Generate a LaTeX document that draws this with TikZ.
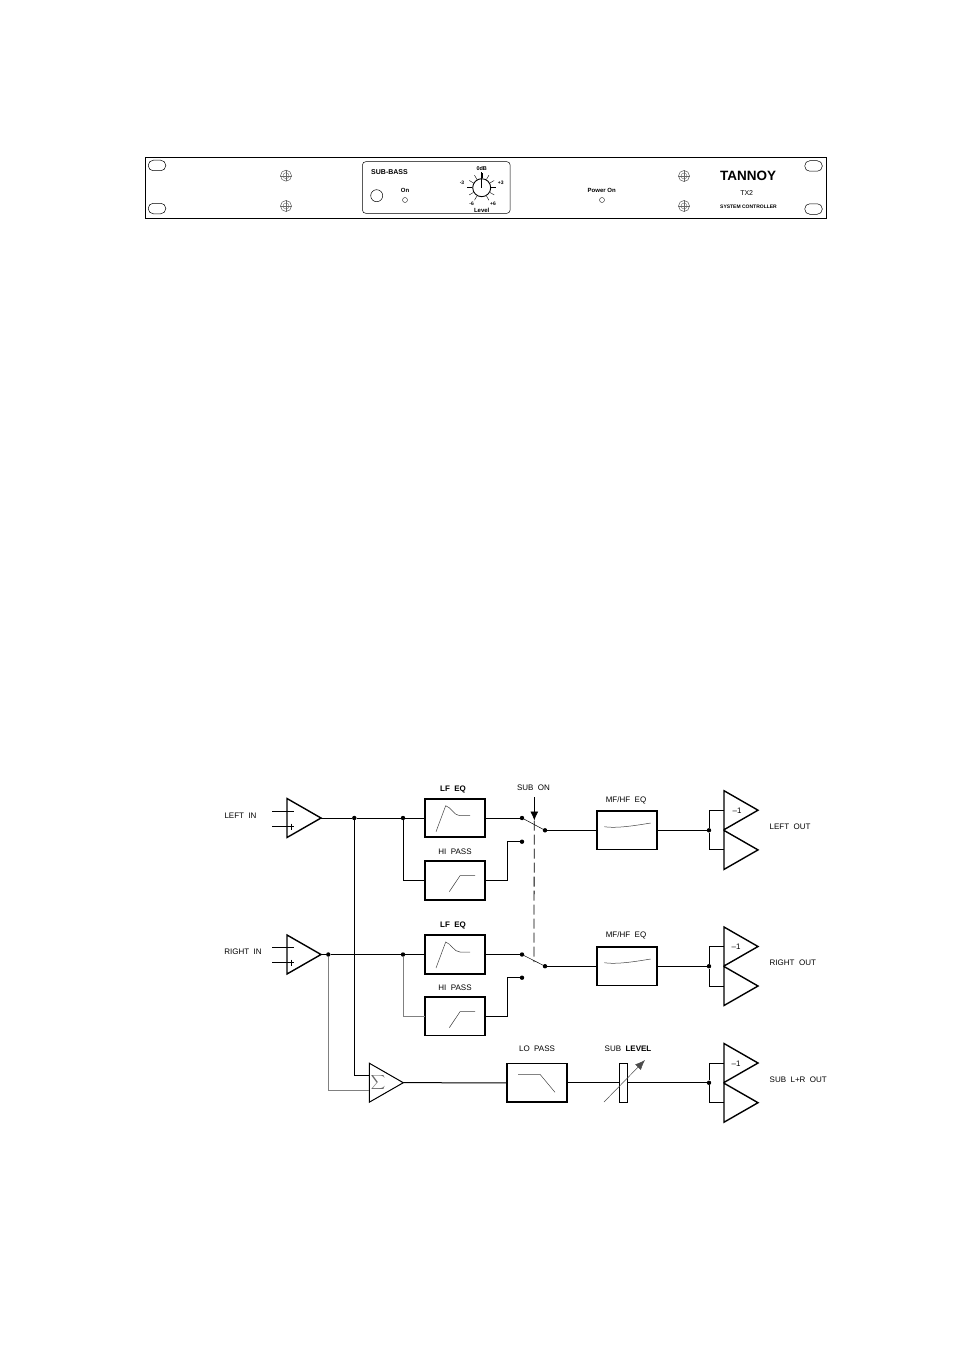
\documentclass[tikz,border=0pt]{standalone}
\usepackage{amsmath}
\usepackage{fontspec}
\usetikzlibrary{shapes.geometric,arrows.meta}
\setmainfont{Liberation Sans}
\tikzset{
  lbl/.style={inner sep=0pt,font=\fontsize{8}{9}\selectfont},
  tag/.style={inner sep=0pt,font=\fontsize{6}{7}\selectfont\bfseries},
  wire/.style={line width=1pt,black},
  gwire/.style={line width=0.8pt,black!50},
  curv/.style={line width=0.5pt,black!75},
  eqbox/.style={draw,line width=1.6pt,minimum width=60pt,minimum height=38.5pt,inner sep=0pt,outer sep=0pt},
  amp/.style={draw,isosceles triangle,isosceles triangle stretches,shape border rotate=0,
    minimum width=39pt,minimum height=34pt,inner sep=0pt,outer sep=0pt,line width=1.4pt},
  dot/.style={circle,fill=black,inner sep=0pt,minimum size=4.4pt},
  oval/.style={draw,rounded corners=5pt,minimum width=17.5pt,minimum height=10.5pt,inner sep=0pt,line width=0.5pt},
  led/.style={draw,circle,inner sep=0pt,minimum size=5pt,line width=0.35pt},
  screw/.style={draw=black!70,circle,inner sep=0pt,minimum size=11pt,line width=0.45pt}
}
\begin{document}
\begin{tikzpicture}[x=1pt,y=-1pt]
  \useasboundingbox (0,0) rectangle (954,1351);
  % front panel
  \node[draw,line width=0.9pt,minimum width=681.5pt,minimum height=61pt,inner sep=0pt] (panel) at (486,187.8) {};
  \foreach \ox/\oy [count=\i] in {157/165.5,157/208.5,813.5/166,813.5/209}
    \node[oval] (oval\i) at (\ox,\oy) {};
  \foreach \sx/\sy [count=\i] in {286/175.7,286/206,684/176,684/206} {
    \node[screw] (scr\i) at (\sx,\sy) {};
    \draw[black!60,line width=0.35pt] (\sx,\sy) circle (3);
    \draw[black!60,line width=0.35pt] (scr\i.north) -- (scr\i.south) (scr\i.west) -- (scr\i.east);
  }
  % sub bass section
  \node[draw,rounded corners=3pt,line width=0.5pt,minimum width=147.5pt,minimum height=51.5pt,inner sep=0pt] (subpan) at (436.3,187.5) {};
  \node[tag,font=\fontsize{7}{8}\selectfont\bfseries] (subname) at (389.5,172) {SUB-BASS};
  \node[draw,circle,inner sep=0pt,minimum size=12pt,line width=0.5pt] (subbtn) at (376.7,195.7) {};
  \node[tag] (onlbl) at (405,190.7) {On};
  \node[led] (onled) at (405,200) {};
  \node[draw,circle,inner sep=0pt,minimum size=18pt,line width=0.9pt] (knob) at (481.7,187.7) {};
  \foreach \a in {-60,-30,...,240}
    \draw[line width=0.4pt] (knob.\a) -- ++(-\a:5);
  \draw[line width=1.1pt] (knob.center) -- ++(0,-16);
  \node[tag,font=\fontsize{5.5}{6}\selectfont\bfseries] (db0) at (481.7,168.3) {0dB};
  \node[tag,font=\fontsize{5}{6}\selectfont\bfseries] (dbm3) at (462,182.7) {-3};
  \node[tag,font=\fontsize{5}{6}\selectfont\bfseries] (dbp3) at (500.7,182.7) {+3};
  \node[tag,font=\fontsize{5}{6}\selectfont\bfseries] (dbm6) at (471.7,204) {-6};
  \node[tag,font=\fontsize{5}{6}\selectfont\bfseries] (dbp6) at (493,204) {+6};
  \node[tag] (lvl) at (481.7,210) {Level};
  % power and logo
  \node[tag] (pwrlbl) at (601.7,190.7) {Power On};
  \node[led] (pwrled) at (602,200) {};
  \node[inner sep=0pt,font=\fontsize{13.5}{14}\selectfont\bfseries] (logo) at (748,176) {TANNOY};
  \node[inner sep=0pt,font=\fontsize{7}{8}\selectfont] (model) at (746.7,192.7) {TX2};
  \node[tag,font=\fontsize{5}{6}\selectfont\bfseries] (sysname) at (748.5,207) {SYSTEM CONTROLLER};
  % amplifiers
  \node[amp,anchor=apex] (ampl) at (321,818) {};
  \node[amp,anchor=apex] (ampr) at (321,954.5) {};
  \node[amp,anchor=apex,line width=1pt] (amps) at (403.3,1082.7) {};
  \node at (378,1082.5) (sumsign) {\color{black!60}$\displaystyle\sum$};
  % filter blocks
  \node[eqbox] (lfl) at (455,818) {};
  \node[eqbox] (hpl) at (455,880.5) {};
  \node[eqbox] (lfr) at (455,954.5) {};
  \node[eqbox] (hpr) at (455,1016.3) {};
  \node[eqbox] (mfl) at (627,830.3) {};
  \node[eqbox] (mfr) at (627,966.2) {};
  \node[eqbox] (lop) at (537.2,1082.8) {};
  \node[draw,line width=0.7pt,minimum width=8pt,minimum height=39pt,inner sep=0pt,outer sep=0pt] (lvlbar) at (623.3,1082.8) {};
  % output pairs
  \foreach \nm/\ya/\yb in {ol/810.2/849.9,or/946.5/986,os/1063/1102.7} {
    \node[amp,anchor=apex] (\nm a) at (758,\ya) {};
    \node[amp,anchor=apex] (\nm b) at (758,\yb) {};
  }
  % junctions
  \node[dot] (jl1) at (354.3,818) {};
  \node[dot] (jl2) at (403,818) {};
  \node[dot] (jr1) at (328.3,954.5) {};
  \node[dot] (jr2) at (403,954.5) {};
  \node[dot] (swl1) at (522,818) {};
  \node[dot] (swl2) at (522,841.7) {};
  \node[dot] (swl3) at (545,830.3) {};
  \node[dot] (swr1) at (522,954.5) {};
  \node[dot] (swr2) at (522,977.7) {};
  \node[dot] (swr3) at (545,966.2) {};
  \node[dot] (jol) at (709,830.3) {};
  \node[dot] (jor) at (709,966.2) {};
  \node[dot] (jos) at (709,1082.8) {};
  % free ends
  \coordinate (inl1) at (272,811);
  \coordinate (inl2) at (272,826.7);
  \coordinate (inl3) at (293.7,811);
  \coordinate (inl4) at (293.7,826.7);
  \coordinate (inr1) at (272,947);
  \coordinate (inr2) at (272,962.7);
  \coordinate (inr3) at (293.7,947);
  \coordinate (inr4) at (293.7,962.7);
  \coordinate (kneel) at (507,841.7);
  \coordinate (kneer) at (507,977.7);
  \coordinate (suml) at (369.3,1075.7);
  \coordinate (sumr) at (369.3,1090);
  \coordinate (armro) at (533.9,962);
  \coordinate (sublo) at (534.3,797);
  \coordinate (subtip) at (534.3,820.5);
  \coordinate (lvla) at (604,1102);
  \coordinate (lvlb) at (645,1060);
  % signal paths
  \draw[wire] (inl1) -- (inl3);
  \draw[wire] (inl2) -- (inl4);
  \draw[wire] (inr1) -- (inr3);
  \draw[wire] (inr2) -- (inr4);
  \draw[wire] (291,823.7) -- (291,829.7);
  \draw[wire] (291,959.7) -- (291,965.7);
  \draw[wire] (ampl.apex) -- (jl1) -- (jl2) -- (lfl.west);
  \draw[wire] (lfl.east) -- (swl1);
  \draw[wire] (jl2) |- (hpl.west);
  \draw[wire] (hpl.east) -| (kneel) -- (swl2);
  \draw[wire] (ampr.apex) -- (jr1) -- (jr2) -- (lfr.west);
  \draw[wire] (lfr.east) -- (swr1);
  \draw[gwire] (jr2) |- (hpr.west);
  \draw[wire] (hpr.east) -| (kneer) -- (swr2);
  \draw[wire] (jl1) |- (suml);
  \draw[gwire] (jr1) |- (sumr);
  \draw[wire] (amps.apex) -- (lop.west);
  \draw[wire] (lop.east) -- (lvlbar.west);
  \draw[wire] (lvlbar.east) -- (jos);
  % switch
  \draw[line width=0.5pt] (swl1) -- (swl3);
  \draw[line width=0.5pt] (swr1) -- (swr3);
  \draw[wire] (swl3) -- (mfl.west);
  \draw[wire,line width=0.7pt] (swr3) -- (mfr.west);
  \draw[line width=0.8pt,dash pattern=on 10pt off 4pt] (subtip) -- (armro);
  \draw[line width=0.8pt,-{Latex[length=9pt,width=8pt]}] (sublo) -- (subtip);
  % outputs
  \foreach \jn/\nm in {jol/ol,jor/or,jos/os} {
    \draw[wire] (\jn) |- (\nm a.lower side);
    \draw[wire] (\jn) |- (\nm b.lower side);
  }
  \draw[wire] (mfl.east) -- (jol);
  \draw[wire] (mfr.east) -- (jor);
  \draw[line width=0.5pt,black!70,-{Latex[length=10pt,width=8pt]}] (lvla) -- (lvlb);
  % response curves
  \draw[curv] (436,831.7) -- (445.7,805.7) .. controls (451,807) and (454,815.7) .. (460,815.7) -- (470,815.7);
  \draw[curv] (449.3,891.7) -- (460,875.7) -- (475,875.7);
  \draw[curv] (436,968) -- (445.7,942) .. controls (451,943.5) and (454,952) .. (460,952) -- (470,952);
  \draw[curv] (449.3,1027.7) -- (460,1011.7) -- (475,1011.7);
  \draw[curv] (604.3,826.7) .. controls (615,828.5) and (633,826) .. (650.7,823);
  \draw[curv] (604.3,962.7) .. controls (615,964.5) and (633,962) .. (650.7,959);
  \draw[curv] (518,1074.3) -- (540,1074.3) -- (555,1092.3);
  % labels
  \node[lbl] (tlin) at (240.5,816) {LEFT\ \ IN};
  \node[lbl] (trin) at (243,952) {RIGHT\ \ IN};
  \node[lbl] (tlf1) at (453,789) {\textbf{LF\ \ EQ}};
  \node[lbl] (thp1) at (455,852) {HI\ \ PASS};
  \node[lbl] (tlf2) at (453,925) {\textbf{LF\ \ EQ}};
  \node[lbl] (thp2) at (455,988) {HI\ \ PASS};
  \node[lbl] (tsub) at (533.5,788) {SUB\ \ ON};
  \node[lbl] (tmf1) at (626,800.7) {MF/HF\ \ EQ};
  \node[lbl] (tmf2) at (626,935.7) {MF/HF\ \ EQ};
  \node[lbl] (tlop) at (537,1049) {LO\ \ PASS};
  \node[lbl] (tlvl) at (628,1049) {SUB\ \ \textbf{LEVEL}};
  \node[lbl] (tm1) at (737,811) {–1};
  \node[lbl] (tm2) at (736,947) {–1};
  \node[lbl] (tm3) at (736,1064) {–1};
  \node[lbl,anchor=west] (tlou) at (769.5,827) {LEFT\ \ OUT};
  \node[lbl,anchor=west] (trou) at (769.5,963) {RIGHT\ \ OUT};
  \node[lbl,anchor=west] (tsou) at (769.5,1080) {SUB\ \ L+R\ \ OUT};
\end{tikzpicture}
\end{document}
